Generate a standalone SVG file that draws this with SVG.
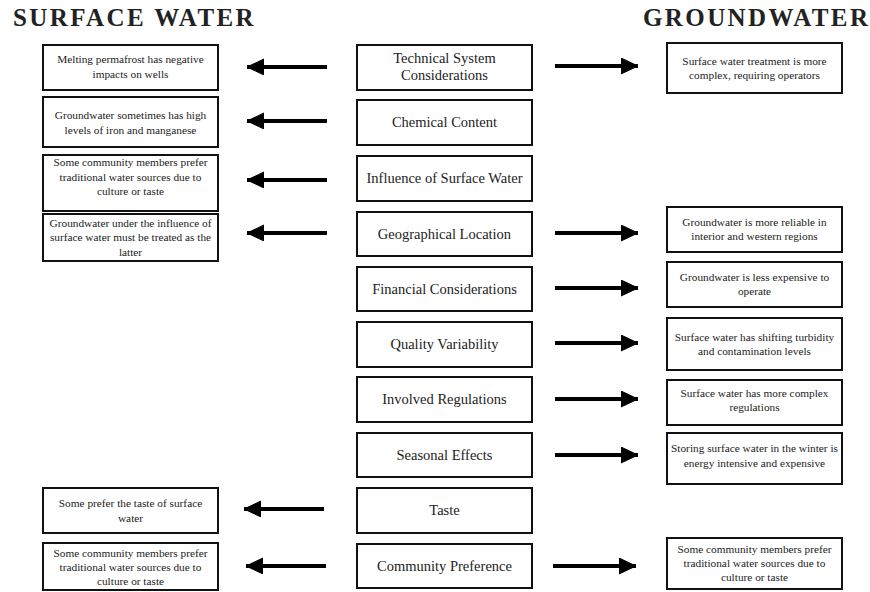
<svg xmlns="http://www.w3.org/2000/svg" width="870" height="592" viewBox="0 0 870 592">
<style>
  .hdr { font-family: "Liberation Serif", "Times New Roman", serif; font-weight: bold; font-size: 25px; letter-spacing: 2.4px; fill: #222; }
  .box { fill: #fff; stroke: #111; stroke-width: 2; }
  .ct { font-family: "Liberation Serif", "Times New Roman", serif; font-size: 14.5px; fill: #222; text-anchor: middle; }
  .st { font-family: "Liberation Serif", "Times New Roman", serif; font-size: 11.3px; fill: #222; text-anchor: middle; }
  .arr { stroke: #000; stroke-width: 4; fill: none; }
</style>
<defs>
  <marker id="ah" markerUnits="userSpaceOnUse" markerWidth="19" markerHeight="18" refX="17" refY="8" orient="auto">
    <path d="M0,0 L17,8 L0,16 Z" fill="#000" stroke="#000" stroke-width="1" stroke-linejoin="round"/>
  </marker>
</defs>
<rect width="870" height="592" fill="#fff"/>
<text class="hdr" x="13" y="26">SURFACE WATER</text>
<text class="hdr" x="643" y="26">GROUNDWATER</text>

<g id="center">
  <g id="c-technical"><rect class="box" x="357" y="45" width="175" height="45"/><text class="ct" x="444.5" y="62.5">Technical System</text><text class="ct" x="444.5" y="79.5">Considerations</text></g>
  <g id="c-chemical"><rect class="box" x="357" y="100" width="175" height="45"/><text class="ct" x="444.5" y="127">Chemical Content</text></g>
  <g id="c-influence"><rect class="box" x="357" y="156" width="175" height="45"/><text class="ct" x="444.5" y="183">Influence of Surface Water</text></g>
  <g id="c-geo"><rect class="box" x="357" y="212" width="175" height="44"/><text class="ct" x="444.5" y="238.5">Geographical Location</text></g>
  <g id="c-financial"><rect class="box" x="357" y="267" width="175" height="44"/><text class="ct" x="444.5" y="293.5">Financial Considerations</text></g>
  <g id="c-quality"><rect class="box" x="357" y="322" width="175" height="45"/><text class="ct" x="444.5" y="349">Quality Variability</text></g>
  <g id="c-regulations"><rect class="box" x="357" y="377" width="175" height="45"/><text class="ct" x="444.5" y="404">Involved Regulations</text></g>
  <g id="c-seasonal"><rect class="box" x="357" y="433" width="175" height="44"/><text class="ct" x="444.5" y="459.5">Seasonal Effects</text></g>
  <g id="c-taste"><rect class="box" x="357" y="488" width="175" height="45"/><text class="ct" x="444.5" y="515">Taste</text></g>
  <g id="c-community"><rect class="box" x="357" y="544" width="175" height="44"/><text class="ct" x="444.5" y="570.5">Community Preference</text></g>
</g>

<g id="left">
  <g id="l-permafrost"><rect class="box" x="43" y="45" width="175" height="45"/><text class="st" x="130.5" y="62.5">Melting permafrost has negative</text><text class="st" x="130.5" y="77.5">impacts on wells</text></g>
  <g id="l-iron"><rect class="box" x="43" y="97" width="175" height="50"/><text class="st" x="130.5" y="118.5">Groundwater sometimes has high</text><text class="st" x="130.5" y="133.5">levels of iron and manganese</text></g>
  <g id="l-community1"><rect class="box" x="43" y="155" width="175" height="56"/><text class="st" x="130.5" y="166">Some community members prefer</text><text class="st" x="130.5" y="180.5">traditional water sources due to</text><text class="st" x="130.5" y="195">culture or taste</text></g>
  <g id="l-influence"><rect class="box" x="43" y="214" width="175" height="47"/><text class="st" x="130.5" y="226.5">Groundwater under the influence of</text><text class="st" x="130.5" y="241">surface water must be treated as the</text><text class="st" x="130.5" y="255.5">latter</text></g>
  <g id="l-taste"><rect class="box" x="43" y="488" width="175" height="45"/><text class="st" x="130.5" y="506.5">Some prefer the taste of surface</text><text class="st" x="130.5" y="521.5">water</text></g>
  <g id="l-community2"><rect class="box" x="43" y="543" width="175" height="47"/><text class="st" x="130.5" y="556.5">Some community members prefer</text><text class="st" x="130.5" y="570.5">traditional water sources due to</text><text class="st" x="130.5" y="584.5">culture or taste</text></g>
</g>

<g id="right">
  <g id="r-treatment"><rect class="box" x="667" y="43" width="175" height="50"/><text class="st" x="754.5" y="64.5">Surface water treatment is more</text><text class="st" x="754.5" y="78.5">complex, requiring operators</text></g>
  <g id="r-reliable"><rect class="box" x="667" y="207" width="175" height="45"/><text class="st" x="754.5" y="225.5">Groundwater is more reliable in</text><text class="st" x="754.5" y="239.5">interior and western regions</text></g>
  <g id="r-expensive"><rect class="box" x="667" y="262" width="175" height="45"/><text class="st" x="754.5" y="280.5">Groundwater is less expensive to</text><text class="st" x="754.5" y="294.5">operate</text></g>
  <g id="r-turbidity"><rect class="box" x="667" y="318" width="175" height="52"/><text class="st" x="754.5" y="340.5">Surface water has shifting turbidity</text><text class="st" x="754.5" y="354.5">and contamination levels</text></g>
  <g id="r-regulations"><rect class="box" x="667" y="380" width="175" height="45"/><text class="st" x="754.5" y="396.5">Surface water has more complex</text><text class="st" x="754.5" y="410.5">regulations</text></g>
  <g id="r-storing"><rect class="box" x="667" y="433" width="175" height="51"/><text class="st" x="754.5" y="451.5">Storing surface water in the winter is</text><text class="st" x="754.5" y="466.5">energy intensive and expensive</text></g>
  <g id="r-community"><rect class="box" x="667" y="538" width="175" height="51"/><text class="st" x="754.5" y="552.5">Some community members prefer</text><text class="st" x="754.5" y="566.5">traditional water sources due to</text><text class="st" x="754.5" y="580.5">culture or taste</text></g>
</g>

<g id="connectors">
  <line class="arr" x1="327" y1="67" x2="247" y2="67" marker-end="url(#ah)"/>
  <line class="arr" x1="327" y1="121" x2="247" y2="121" marker-end="url(#ah)"/>
  <line class="arr" x1="327" y1="180" x2="247" y2="180" marker-end="url(#ah)"/>
  <line class="arr" x1="327" y1="233" x2="247" y2="233" marker-end="url(#ah)"/>
  <line class="arr" x1="324" y1="509" x2="244" y2="509" marker-end="url(#ah)"/>
  <line class="arr" x1="326" y1="566" x2="246" y2="566" marker-end="url(#ah)"/>
  <line class="arr" x1="555" y1="66" x2="638" y2="66" marker-end="url(#ah)"/>
  <line class="arr" x1="555" y1="233" x2="638" y2="233" marker-end="url(#ah)"/>
  <line class="arr" x1="555" y1="288" x2="638" y2="288" marker-end="url(#ah)"/>
  <line class="arr" x1="555" y1="343" x2="638" y2="343" marker-end="url(#ah)"/>
  <line class="arr" x1="555" y1="399" x2="638" y2="399" marker-end="url(#ah)"/>
  <line class="arr" x1="555" y1="455" x2="638" y2="455" marker-end="url(#ah)"/>
  <line class="arr" x1="553" y1="566" x2="636" y2="566" marker-end="url(#ah)"/>
</g>
</svg>
